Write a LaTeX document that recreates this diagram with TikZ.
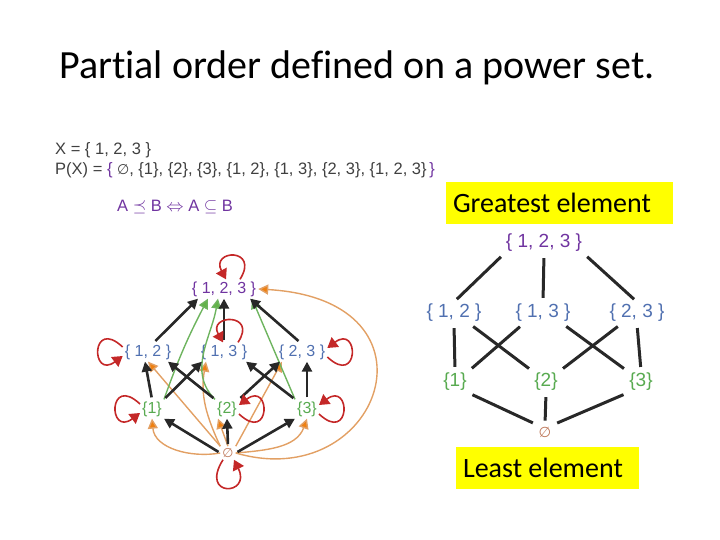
\documentclass[tikz,border=0pt]{standalone}
\usepackage{fontspec}
\setmainfont{Liberation Sans}
\newfontfamily\slidefont[Ligatures=NoCommon]{Carlito}
\newfontfamily\symfont{DejaVu Sans}
\usetikzlibrary{arrows.meta}

\definecolor{setpurple}{RGB}{112,52,160}
\definecolor{setblue}{RGB}{80,112,176}
\definecolor{setgreen}{RGB}{88,170,80}
\definecolor{setbrown}{RGB}{190,120,90}
\definecolor{txtgray}{RGB}{64,64,64}
\definecolor{arrdark}{RGB}{40,40,40}
\definecolor{loopred}{RGB}{196,40,40}
\definecolor{transgreen}{RGB}{110,180,95}
\definecolor{transorange}{RGB}{226,160,100}
\definecolor{markyellow}{RGB}{255,255,0}

\newcommand{\noset}{{\symfont\fontsize{0.85em}{1em}\selectfont ∅}}

\begin{document}
\begin{tikzpicture}[x=1pt,y=-1pt,
    lset/.style={font=\fontsize{16}{18}\selectfont, inner sep=2pt},
    rset/.style={font=\fontsize{19}{21}\selectfont, inner sep=2pt},
    cover/.style={draw=arrdark, line width=2.6pt, -{Triangle[length=10pt,width=10pt]}, shorten <=2pt},
    hasse/.style={draw=arrdark, line width=3pt, shorten <=4pt, shorten >=4pt},
    selfl/.style={draw=loopred, line width=1.6pt, -{Triangle[length=10pt,width=12pt]}},
    viagreen/.style={draw=transgreen, line width=1.4pt, -{Triangle[length=10pt,width=10pt,fill=setgreen!90!lime]}},
    viaorange/.style={draw=transorange, line width=1.4pt, -{Triangle[length=10pt,width=10pt,fill=orange!75!brown]}},
    marker/.style={fill=markyellow, font=\slidefont\fontsize{28}{32}\selectfont, inner xsep=7pt, inner ysep=0pt}]
    \useasboundingbox (0,0) rectangle (720,540);

    % Title
    \node[font=\slidefont\fontsize{40}{46}\selectfont] (title) at (357,68) {Partial order defined on a power set.};

    % Definitions
    \node[anchor=west, text=txtgray, font=\fontsize{16.5}{18}\selectfont, inner sep=0pt] (xdef) at (55,150) {X = \{ 1, 2, 3 \}};
    \node[anchor=west, text=txtgray, font=\fontsize{16.5}{18}\selectfont, inner sep=0pt] (pdef) at (55,170)
        {P(X) = \textcolor{setpurple}{\{} \noset, \{1\}, \{2\}, \{3\}, \{1, 2\}, \{1, 3\}, \{2, 3\}, \{1, 2, 3\}\,\textcolor{setpurple}{\}}};
    \node[anchor=west, text=setpurple, font=\fontsize{16.5}{18}\selectfont, inner sep=0pt] (rel) at (117,207)
        {A $\preceq$ B $\Leftrightarrow$ A $\subseteq$ B};

    % Left graph: all pairs of the relation
    \node[lset, text=setpurple] (l123) at (224,289) {\{ 1, 2, 3 \}};
    \node[lset, text=setblue] (l12) at (148,352) {\{ 1, 2 \}};
    \node[lset, text=setblue] (l13) at (224,352) {\{ 1, 3 \}};
    \node[lset, text=setblue] (l23) at (302,352) {\{ 2, 3 \}};
    \node[lset, text=setgreen] (l1) at (152,409) {\{1\}};
    \node[lset, text=setgreen] (l2) at (227,409) {\{2\}};
    \node[lset, text=setgreen] (l3) at (307,409) {\{3\}};
    \node[lset, text=setbrown, font=\fontsize{15}{17}\selectfont] (le) at (228,453) {\noset};

    % transitive pairs
    \draw[viaorange] (le.west) to[out=190,in=-85] (l1.south);
    \draw[viaorange] (le.north west) -- (l12.south);
    \draw[viaorange] (le.north west) to[out=115,in=-100] ([xshift=-18pt]l13.south);
    \draw[viaorange] (le.north) -- ([xshift=-9pt]l2.south);
    \draw[viaorange] (le.north east) -- ([xshift=-20pt]l23.south);
    \draw[viaorange] (le.east) to[out=5,in=-110] (l3.south);
    \draw[viaorange] (le.east) .. controls (380,495) and (450,300) .. (l123.east);
    \draw[viagreen] (l1.north east) to[bend left=4] ([xshift=-16pt]l123.south);
    \draw[viagreen] (l2.north west) to[out=135,in=-100] ([xshift=-6pt]l123.south);
    \draw[viagreen] (l3.north west) -- ([xshift=28pt]l123.south);

    % covering pairs
    \draw[cover] ([xshift=6pt]l12.north) -- ([xshift=-26pt]l123.south);
    \draw[cover] (l13.north) -- (l123.south);
    \draw[cover] ([xshift=-2pt]l23.north) -- ([xshift=26pt]l123.south);
    \draw[cover] (l1.north) -- ([xshift=-3pt]l12.south);
    \draw[cover] (l1.north east) -- ([xshift=-22pt]l13.south);
    \draw[cover] (l2.north west) -- ([xshift=20pt]l12.south);
    \draw[cover] (l2.north east) -- ([xshift=-22pt]l23.south);
    \draw[cover] (l3.north west) -- ([xshift=22pt]l13.south);
    \draw[cover] (l3.north) -- ([xshift=5pt]l23.south);
    \draw[cover] (le.west) -- (l1.south east);
    \draw[cover] (le.north) -- (l2.south);
    \draw[cover] (le.east) -- (l3.south west);

    % reflexive pairs
    \draw[selfl] ([xshift=16pt]l123.north) .. controls +(20,-32) and +(-16,-30) .. ([xshift=2pt]l123.north);
    \draw[selfl] ([xshift=14pt]l13.north) .. controls +(20,-30) and +(-16,-28) .. ([xshift=-1pt]l13.north);
    \draw[selfl] ([yshift=5pt]l12.west) .. controls +(-32,-30) and +(-32,24) .. ([yshift=-4pt]l12.west);
    \draw[selfl] ([yshift=5pt]l1.west) .. controls +(-32,-30) and +(-32,24) .. ([yshift=-4pt]l1.west);
    \draw[selfl] ([yshift=-5pt]l23.east) .. controls +(32,30) and +(32,-24) .. ([yshift=4pt]l23.east);
    \draw[selfl] ([yshift=-5pt]l2.east) .. controls +(32,30) and +(32,-24) .. ([yshift=4pt]l2.east);
    \draw[selfl] ([yshift=-5pt]l3.east) .. controls +(32,30) and +(32,-24) .. ([yshift=4pt]l3.east);
    \draw[selfl] ([xshift=-5pt]le.south) .. controls +(-24,38) and +(18,36) .. ([xshift=6pt]le.south);

    % Right graph: Hasse diagram
    \node[marker, minimum height=42pt] (great) at (559.5,203) {\makebox[213pt][l]{Greatest element}};
    \node[rset, text=setpurple] (r123) at (544,243) {\{ 1, 2, 3 \}};
    \node[rset, text=setblue] (r12) at (454,313) {\{ 1, 2 \}};
    \node[rset, text=setblue] (r13) at (543,313) {\{ 1, 3 \}};
    \node[rset, text=setblue] (r23) at (637,313) {\{ 2, 3 \}};
    \node[rset, text=setgreen] (r1) at (455,382) {\{1\}};
    \node[rset, text=setgreen] (r2) at (546,382) {\{2\}};
    \node[rset, text=setgreen] (r3) at (641,382) {\{3\}};
    \node[rset, text=setbrown, font=\fontsize{17}{19}\selectfont] (re) at (545,432) {\noset};
    \node[marker, minimum height=42pt] (least) at (547.5,468) {\makebox[169pt][l]{Least element}};

    \draw[hasse] (r123.south west) -- (r12.north);
    \draw[hasse] (r123.south) -- (r13.north);
    \draw[hasse] (r123.south east) -- (r23.north);
    \draw[hasse] (r12.south) -- (r1.north);
    \draw[hasse] (r1.north east) -- ([xshift=-20pt]r13.south);
    \draw[hasse] ([xshift=16pt]r12.south) -- (r2.north west);
    \draw[hasse] ([xshift=20pt]r13.south) -- (r3.north west);
    \draw[hasse] (r2.north east) -- ([xshift=-16pt]r23.south);
    \draw[hasse] (r23.south) -- (r3.north);
    \draw[hasse] (r1.south east) -- (re.north west);
    \draw[hasse] (r2.south) -- (re.north);
    \draw[hasse] (r3.south west) -- (re.north east);
\end{tikzpicture}
\end{document}
